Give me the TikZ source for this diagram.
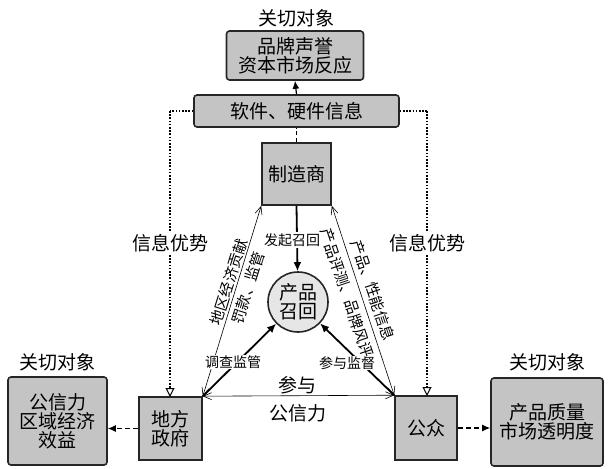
\documentclass[tikz,border=0pt]{standalone}
\usepackage{fontspec}
\newfontfamily\cjk{Noto Sans CJK SC}
\usetikzlibrary{arrows.meta}
\definecolor{boxgray}{RGB}{196,196,196}
\definecolor{circgray}{RGB}{230,230,230}
\tikzset{
  fs/.style={font=\cjk\fontsize{#1}{#1}\selectfont},
  gbox/.style={draw=black!85, line width=1.6pt, fill=boxgray, align=center, inner sep=0pt, fs=19},
  rbox/.style={gbox, rounded corners=3pt},
  lbl/.style={align=center, inner sep=1pt, fs=19},
  slbl/.style={inner sep=1pt, fs=14},
  rlbl/.style={inner sep=0.5pt, fs=15},
  thinarr/.style={line width=0.6pt, {Straight Barb[length=8pt,width=7pt]}-{Straight Barb[length=8pt,width=7pt]}},
  thickarr/.style={line width=1.8pt, -{Latex[length=9pt,width=8pt]}},
  dotarr/.style={line width=2.2pt, dash pattern=on 1.6pt off 1.6pt, -{Triangle[open,length=9pt,width=9pt,line width=1pt]}},
  dotln/.style={line width=2.2pt, dash pattern=on 1.6pt off 1.6pt},
  dasharr/.style={line width=1.2pt, dash pattern=on 5pt off 3pt, -{Latex[length=8pt,width=7pt]}},
}
\begin{document}
\begin{tikzpicture}[x=1pt,y=-1pt]
\useasboundingbox (0,0) rectangle (609,468);
% nodes
\node[lbl] (ltop) at (296,18) {关切对象};
\node[rbox, minimum width=137pt, minimum height=49pt] (top) at (295,55.5) {品牌声誉\\资本市场反应};
\node[rbox, minimum width=205pt, minimum height=32pt] (soft) at (296.5,111) {软件、硬件信息};
\node[gbox, minimum width=69pt, minimum height=62pt] (mfr) at (296.5,174) {制造商};
\node[circle, draw=black!85, line width=1.6pt, fill=circgray, minimum size=60pt, inner sep=0pt, align=center, fs=19] (circ) at (298,302) {产品\\召回};
\node[gbox, minimum width=63pt, minimum height=63pt] (gov) at (170.5,428.5) {地方\\政府};
\node[gbox, minimum width=62pt, minimum height=64pt] (pub) at (426,428) {公众};
\node[rbox, minimum width=99pt, minimum height=88pt] (lbox) at (57.5,421) {公信力\\区域经济\\效益};
\node[rbox, minimum width=112pt, minimum height=88pt] (rbox) at (547,422) {产品质量\\市场透明度};
\node[lbl] (lleft) at (57,362) {关切对象};
\node[lbl] (lright) at (547,362) {关切对象};
% coordinates for dotted routes
\coordinate (dl1) at (170,111);
\coordinate (dl2) at (170,397);
\coordinate (dr1) at (427,111);
\coordinate (dr2) at (427,396);
% dotted lines
\draw[dotln] (soft.west) -- (dl1);
\draw[dotarr] (dl1) -- (dl2);
\draw[dotln] (soft.east) -- (dr1);
\draw[dotarr] (dr1) -- (dr2);
\node[lbl, fill=white] (infl) at (170,243) {信息优势};
\node[lbl, fill=white] (infr) at (427,243) {信息优势};
% top connectors
\draw[line width=1.2pt, dash pattern=on 4pt off 3pt] (mfr.north) -- (soft.south);
\draw[line width=1.2pt, -{Latex[length=8pt,width=7pt]}] (soft.north) -- (top.south);
% thin double lines
\draw[thinarr] (mfr.south west) -- (gov.north east);
\draw[thinarr] (mfr.south east) -- (pub.north west);
\draw[thinarr] (gov.north east) -- (pub.north west);
% thick arrows
\draw[thickarr] (mfr.south) -- (circ);
\draw[thickarr] (gov.north east) -- (circ);
\draw[thickarr] (pub.north west) -- (circ);
% dashed arrows
\draw[dasharr] (gov.west) -- (lbox.east |- gov.west);
\draw[dasharr] (pub.east) -- (rbox.west |- pub.east);
% labels
\node[slbl, fill=white] (fq) at (292,240) {发起召回};
\node[slbl, fill=white] (dc) at (233,362) {调查监管};
\node[slbl, fill=white] (cy) at (347,363) {参与监督};
\node[lbl] (cy2) at (297,385) {参与};
\node[lbl] (gxl) at (298,413) {公信力};
\node[rlbl, rotate=72.6] (dq) at (229,282) {地区经济贡献};
\node[rlbl, rotate=72.6] (fk) at (248,288) {罚款、监管};
\node[rlbl, rotate=-71.5] (cp) at (347,293) {产品评测、品牌风评};
\node[rlbl, rotate=-71.5] (xn) at (373,290) {产品、性能信息};
\end{tikzpicture}
\end{document}
